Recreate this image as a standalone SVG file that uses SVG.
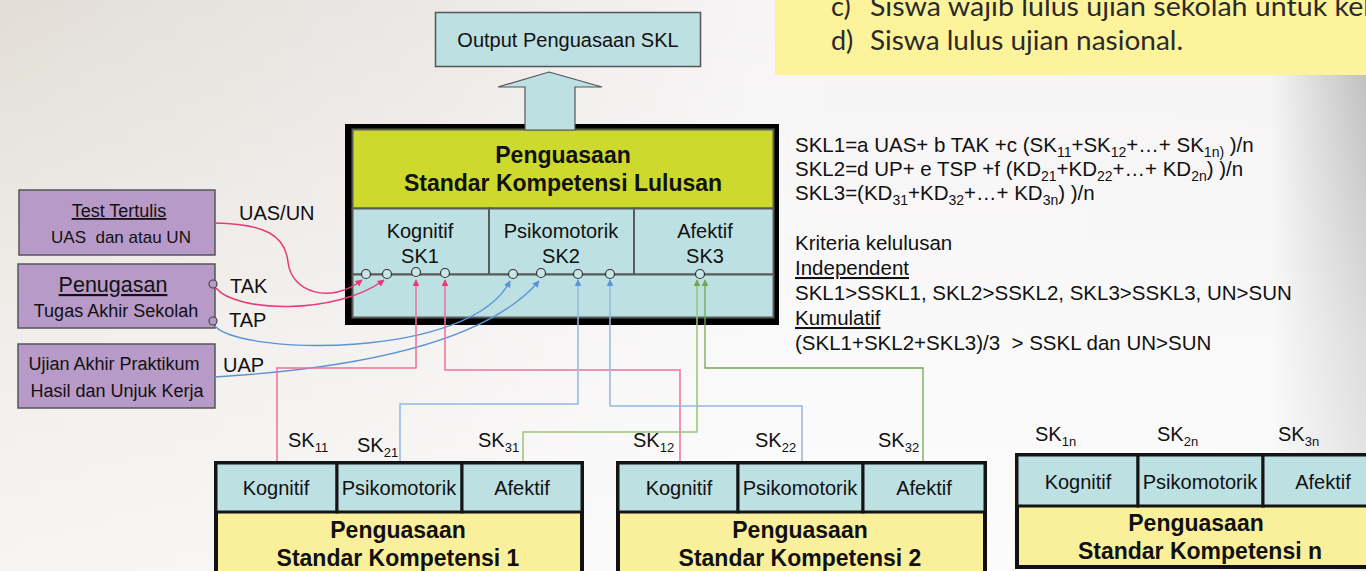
<svg xmlns="http://www.w3.org/2000/svg" width="1366" height="571" viewBox="0 0 1366 571">
<defs>
<linearGradient id="bgx" x1="0" y1="0" x2="1" y2="0">
<stop offset="0" stop-color="#e2ded6"/>
<stop offset="0.3" stop-color="#ebe7e5"/>
<stop offset="0.55" stop-color="#f6f4f4"/>
<stop offset="0.93" stop-color="#f5f3f3"/>
<stop offset="1" stop-color="#b9b9b9"/>
</linearGradient>
<linearGradient id="bgy" x1="0" y1="0" x2="0" y2="1">
<stop offset="0" stop-color="#ffffff" stop-opacity="0"/>
<stop offset="0.6" stop-color="#ffffff" stop-opacity="0.5"/>
<stop offset="1" stop-color="#ffffff" stop-opacity="0.7"/>
</linearGradient>
<marker id="mPink" viewBox="0 0 10 10" refX="9" refY="5" markerWidth="7" markerHeight="7" markerUnits="userSpaceOnUse" orient="auto"><path d="M0,0 L10,5 L0,10 z" fill="#e63b7a"/></marker>
<marker id="mBlue" viewBox="0 0 10 10" refX="9" refY="5" markerWidth="7" markerHeight="7" markerUnits="userSpaceOnUse" orient="auto"><path d="M0,0 L10,5 L0,10 z" fill="#5b93d6"/></marker>
<marker id="mGreen" viewBox="0 0 10 10" refX="9" refY="5" markerWidth="7" markerHeight="7" markerUnits="userSpaceOnUse" orient="auto"><path d="M0,0 L10,5 L0,10 z" fill="#72a84e"/></marker>
<style>
text{font-family:"Liberation Sans",Arial,sans-serif;fill:#111;}
.c{text-anchor:middle;}
.b{font-weight:bold;font-size:23px;}
.f20{font-size:20px;}
.f18{font-size:18px;}
.fr{font-size:20.5px;}
.cell{fill:#bde0e3;stroke:#5a5a5a;stroke-width:2;}
.bcell{fill:#bde0e3;stroke:#151515;stroke-width:3;}
.purple{fill:#b89ac8;stroke:#555;stroke-width:1.5;}
.dot{fill:#c9e5e8;stroke:#333;stroke-width:1.2;}
.pk{fill:none;stroke:#e63b7a;stroke-width:1.5;}
.pkl{fill:none;stroke:#ef6f9c;stroke-width:1.5;}
.bl{fill:none;stroke:#5b93d6;stroke-width:1.3;}
.bll{fill:none;stroke:#93b7e2;stroke-width:1.5;}
.gr{fill:none;stroke:#72a84e;stroke-width:1.3;}
.grl{fill:none;stroke:#98c47a;stroke-width:1.5;}
.u{text-decoration:underline;}
.hum{font-family:Lato,"Open Sans","Liberation Sans",sans-serif;font-size:27px;fill:#2a2a2a;}
</style>
</defs>

<rect x="0" y="0" width="1366" height="571" fill="url(#bgx)"/>
<rect x="0" y="0" width="1366" height="571" fill="url(#bgy)"/>

<g id="note-box">
<rect x="775" y="0" width="600" height="75" fill="#fdf39a"/>
<text class="hum" x="831" y="16">c)</text>
<text class="hum" x="870" y="16" textLength="500" lengthAdjust="spacingAndGlyphs">Siswa wajib lulus ujian sekolah untuk kel</text>
<text class="hum" x="831" y="50">d)</text>
<text class="hum" x="870" y="50" textLength="313" lengthAdjust="spacingAndGlyphs">Siswa lulus ujian nasional.</text>
</g>

<g id="output">
<rect x="435.5" y="12.5" width="265" height="54" fill="#bde0e3" stroke="#555" stroke-width="1.5"/>
<text class="c f20" x="568" y="47">Output Penguasaan SKL</text>
</g>

<g id="skl-box">
<rect x="348.5" y="127.5" width="427" height="194" fill="#000" stroke="#000" stroke-width="7"/>
<rect x="352.5" y="129.5" width="421" height="79" fill="#cdd92c" stroke="#5a5a5a" stroke-width="2"/>
<rect class="cell" x="352.5" y="208.5" width="136.5" height="66"/>
<rect class="cell" x="489" y="208.5" width="145" height="66"/>
<rect class="cell" x="634" y="208.5" width="139.5" height="66"/>
<rect class="cell" x="352.5" y="274.5" width="421" height="43"/>
<text class="c b" x="563" y="163">Penguasaan</text>
<text class="c b" x="563" y="191">Standar Kompetensi Lulusan</text>
<text class="c f20" x="420" y="238">Kognitif</text>
<text class="c f20" x="420" y="263">SK1</text>
<text class="c f20" x="561" y="238">Psikomotorik</text>
<text class="c f20" x="561" y="263">SK2</text>
<text class="c f20" x="705" y="238">Afektif</text>
<text class="c f20" x="705" y="263">SK3</text>
</g>

<g id="up-arrow">
<polygon points="549,72 602,87 575,87 575,130 525,130 525,87 498,87" fill="#bde0e3" stroke="#555" stroke-width="1.2"/>
</g>

<g id="test-tertulis">
<rect class="purple" x="19" y="190" width="196" height="65"/>
<text class="c f18 u" x="119" y="217">Test Tertulis</text>
<text class="c" x="121" y="243" font-size="17" xml:space="preserve">UAS  dan atau UN</text>
</g>
<g id="penugasan">
<rect class="purple" x="18" y="264" width="197" height="64"/>
<text class="c u" x="113" y="292" font-size="21.5">Penugasan</text>
<text class="c f18" x="116" y="317">Tugas Akhir Sekolah</text>
</g>
<g id="praktikum">
<rect class="purple" x="18" y="344" width="197" height="64"/>
<text class="c f18" x="114" y="370">Ujian Akhir Praktikum</text>
<text class="c f18" x="117" y="397">Hasil dan Unjuk Kerja</text>
</g>

<g id="connectors">
<path class="pk" d="M215,223 C265,224 285,235 288,262 C291,292 330,305 362,280" marker-end="url(#mPink)"/>
<path class="pk" d="M216,288 C235,312 335,316 384,280" marker-end="url(#mPink)"/>
<path class="bl" d="M215,326 C240,355 470,360 510,281" marker-end="url(#mBlue)"/>
<path class="bl" d="M215,377 C330,370 480,350 539,281" marker-end="url(#mBlue)"/>
<path class="pkl" d="M277,461 V368 H416 V280" marker-end="url(#mPink)"/>
<path class="pkl" d="M680,461 V370 H445 V280" marker-end="url(#mPink)"/>
<path class="bll" d="M400,461 V404 H578 V280" marker-end="url(#mBlue)"/>
<path class="bll" d="M802,461 V406 H610 V280" marker-end="url(#mBlue)"/>
<path class="grl" d="M523,461 V432 H697 V280" marker-end="url(#mGreen)"/>
<path class="gr" d="M923,461 V368 H705 V280" marker-end="url(#mGreen)"/>
</g>

<g id="ports">
<circle class="dot" cx="366" cy="274" r="4.5"/>
<circle class="dot" cx="387" cy="274" r="4.5"/>
<circle class="dot" cx="416" cy="272" r="4.5"/>
<circle class="dot" cx="445" cy="273" r="4.5"/>
<circle class="dot" cx="513" cy="274" r="4.5"/>
<circle class="dot" cx="541" cy="273" r="4.5"/>
<circle class="dot" cx="578" cy="274" r="4.5"/>
<circle class="dot" cx="610" cy="274" r="4.5"/>
<circle class="dot" cx="700" cy="274" r="4.5"/>
<circle cx="213" cy="284" r="4" fill="#b89ac8" stroke="#444" stroke-width="1.2"/>
<circle cx="213" cy="321" r="4" fill="#b89ac8" stroke="#444" stroke-width="1.2"/>
</g>

<g id="edge-labels">
<text class="f20" x="239" y="220">UAS/UN</text>
<text class="f20" x="230" y="293">TAK</text>
<text class="f20" x="229" y="327">TAP</text>
<text class="f20" x="223" y="372">UAP</text>
<text class="f20" x="288" y="447">SK<tspan font-size="13" dy="5">11</tspan></text>
<text class="f20" x="357" y="452">SK<tspan font-size="13" dy="5">21</tspan></text>
<text class="f20" x="478" y="447">SK<tspan font-size="13" dy="5">31</tspan></text>
<text class="f20" x="633" y="447">SK<tspan font-size="13" dy="5">12</tspan></text>
<text class="f20" x="755" y="447">SK<tspan font-size="13" dy="5">22</tspan></text>
<text class="f20" x="878" y="447">SK<tspan font-size="13" dy="5">32</tspan></text>
<text class="f20" x="1035" y="441">SK<tspan font-size="13" dy="5">1n</tspan></text>
<text class="f20" x="1157" y="441">SK<tspan font-size="13" dy="5">2n</tspan></text>
<text class="f20" x="1278" y="441">SK<tspan font-size="13" dy="5">3n</tspan></text>
</g>

<g id="sk1-box">
<rect x="216" y="463" width="366" height="120" fill="#faf09b" stroke="#111" stroke-width="4"/>
<rect class="bcell" x="216" y="463" width="121" height="49"/>
<rect class="bcell" x="337" y="463" width="125" height="49"/>
<rect class="bcell" x="462" y="463" width="120" height="49"/>
<text class="c f20" x="276" y="495">Kognitif</text>
<text class="c f20" x="399" y="495">Psikomotorik</text>
<text class="c f20" x="522" y="495">Afektif</text>
<text class="c b" x="398" y="538">Penguasaan</text>
<text class="c b" x="398" y="566">Standar Kompetensi 1</text>
</g>

<g id="sk2-box">
<rect x="618" y="463" width="367" height="120" fill="#faf09b" stroke="#111" stroke-width="4"/>
<rect class="bcell" x="618" y="463" width="120" height="49"/>
<rect class="bcell" x="738" y="463" width="125" height="49"/>
<rect class="bcell" x="863" y="463" width="122" height="49"/>
<text class="c f20" x="679" y="495">Kognitif</text>
<text class="c f20" x="800" y="495">Psikomotorik</text>
<text class="c f20" x="924" y="495">Afektif</text>
<text class="c b" x="800" y="538">Penguasaan</text>
<text class="c b" x="800" y="566">Standar Kompetensi 2</text>
</g>

<g id="skn-box">
<rect x="1017" y="455" width="360" height="112" fill="#faf09b" stroke="#111" stroke-width="4"/>
<rect class="bcell" x="1017" y="455" width="121" height="51"/>
<rect class="bcell" x="1138" y="455" width="125" height="51"/>
<rect class="bcell" x="1263" y="455" width="120" height="51"/>
<text class="c f20" x="1078" y="489">Kognitif</text>
<text class="c f20" x="1200" y="489">Psikomotorik</text>
<text class="c f20" x="1323" y="489">Afektif</text>
<text class="c b" x="1196" y="531">Penguasaan</text>
<text class="c b" x="1200" y="559">Standar Kompetensi n</text>
</g>

<g id="formulas">
<text class="fr" x="795" y="152">SKL1=a UAS+ b TAK +c (SK<tspan font-size="14" dy="5">11</tspan><tspan dy="-5">+SK</tspan><tspan font-size="14" dy="5">12</tspan><tspan dy="-5">+…+ SK</tspan><tspan font-size="14" dy="5">1n)</tspan><tspan dy="-5"> )/n</tspan></text>
<text class="fr" x="795" y="176">SKL2=d UP+ e TSP +f (KD<tspan font-size="14" dy="5">21</tspan><tspan dy="-5">+KD</tspan><tspan font-size="14" dy="5">22</tspan><tspan dy="-5">+…+ KD</tspan><tspan font-size="14" dy="5">2n</tspan><tspan dy="-5">) )/n</tspan></text>
<text class="fr" x="795" y="200">SKL3=(KD<tspan font-size="14" dy="5">31</tspan><tspan dy="-5">+KD</tspan><tspan font-size="14" dy="5">32</tspan><tspan dy="-5">+…+ KD</tspan><tspan font-size="14" dy="5">3n</tspan><tspan dy="-5">) )/n</tspan></text>
<text class="fr" x="795" y="250">Kriteria kelulusan</text>
<text class="fr u" x="795" y="275">Independent</text>
<text class="fr" x="795" y="300">SKL1&gt;SSKL1, SKL2&gt;SSKL2, SKL3&gt;SSKL3, UN&gt;SUN</text>
<text class="fr u" x="795" y="325">Kumulatif</text>
<text class="fr" x="795" y="350" xml:space="preserve">(SKL1+SKL2+SKL3)/3  &gt; SSKL dan UN&gt;SUN</text>
</g>
</svg>
